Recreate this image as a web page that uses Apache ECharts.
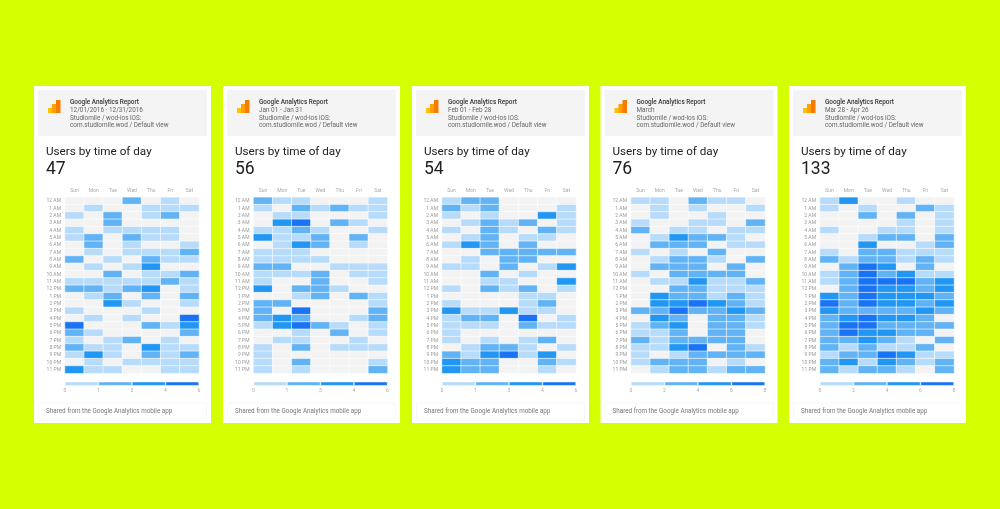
<!DOCTYPE html>
<html><head><meta charset="utf-8">
<style>html,body{margin:0;padding:0;background:#d4ff00}#c{width:1000px;height:509px}</style>
<script src="https://cdn.jsdelivr.net/npm/echarts@6/dist/echarts.min.js"></script>
</head><body><div id="c"></div>
<script>
const days = ['Sun','Mon','Tue','Wed','Thu','Fri','Sat'];
const hours = ['12 AM','1 AM','2 AM','3 AM','4 AM','5 AM','6 AM','7 AM','8 AM','9 AM','10 AM','11 AM','12 PM','1 PM','2 PM','3 PM','4 PM','5 PM','6 PM','7 PM','8 PM','9 PM','10 PM','11 PM'];
const levelColors = ['#f3f3f3','#b7dbfb','#62b3f6','#2196f3','#1a73f4'];
const dateLabels = ['12/01/2016 - 12/31/2016','Jan 01 - Jan 31','Feb 01 - Feb 28','March','Mar 28 - Apr 26'];
const totals = ['47','56','54','76','133'];
const legendTicks = [[0,1,3,4,6],[0,1,3,4,6],[0,1,3,4,6],[0,2,4,6,8],[0,2,4,6,8]];
const december = [
[0,0,0,2,0,1,0],[0,1,0,0,1,1,1],[1,0,2,0,1,2,0],[0,0,2,0,0,0,0],[1,0,1,1,1,1,0],[1,2,0,2,1,1,0],
[0,2,0,1,0,0,1],[0,1,0,1,1,1,2],[2,0,1,0,2,1,1],[0,1,0,1,3,0,0],[0,0,2,0,1,1,2],[1,1,1,1,1,2,1],
[2,2,1,2,3,0,1],[0,1,2,0,2,0,2],[0,0,3,1,0,0,1],[1,0,0,0,1,0,0],[0,1,0,1,0,0,4],[4,0,0,0,2,1,3],
[2,1,0,0,0,0,2],[1,0,1,2,0,1,0],[2,1,1,0,3,1,1],[1,3,1,0,2,1,2],[0,1,0,1,1,1,1],[3,1,1,0,0,1,1]];
const january = [
[2,1,1,0,0,0,1],[1,0,2,1,2,1,1],[0,1,1,0,0,0,1],[0,3,4,0,2,1,0],[1,1,2,1,0,0,1],[3,1,1,2,0,2,0],
[0,1,3,2,0,1,0],[1,1,1,0,0,0,0],[1,1,1,1,0,0,0],[2,2,0,0,1,1,1],[1,1,1,2,0,1,1],[1,0,0,2,0,0,1],
[3,0,2,2,1,0,0],[0,0,1,2,0,2,1],[2,2,0,0,0,0,1],[2,0,4,0,0,0,2],[2,3,2,0,0,1,2],[1,3,4,2,1,0,1],
[0,0,1,0,2,0,1],[0,1,1,0,0,1,0],[1,0,2,0,1,1,1],[1,0,0,0,0,0,0],[1,0,2,0,0,0,1],[1,0,1,0,0,0,2]];
const february = [
[1,2,2,0,0,0,0],[2,1,2,0,0,0,1],[1,0,1,0,0,3,1],[0,1,2,1,2,0,1],[1,0,2,1,0,2,1],[0,1,2,0,1,1,0],
[1,3,2,0,2,0,0],[0,0,2,2,2,2,2],[0,1,0,2,2,0,0],[1,1,0,2,0,1,3],[0,0,2,0,1,0,0],[0,0,1,1,0,0,3],
[1,0,2,1,2,0,1],[0,0,0,0,1,1,0],[1,0,0,0,1,2,0],[3,1,1,3,1,1,0],[1,2,2,0,4,0,1],[1,1,1,0,2,1,1],
[1,0,0,0,0,0,0],[1,0,1,0,1,2,0],[0,1,2,2,1,0,1],[2,1,3,4,1,3,0],[3,2,2,0,0,2,1],[3,2,2,0,0,1,0]];
const march = [
[1,1,0,2,1,1,0],[0,1,0,1,0,0,1],[0,1,0,0,1,0,0],[1,0,0,1,1,0,2],[2,0,1,1,0,1,1],[0,1,3,2,2,1,0],
[0,2,2,2,0,1,1],[1,0,1,0,2,0,0],[0,1,2,2,1,0,2],[0,2,2,2,0,2,0],[1,0,2,2,2,2,0],[0,1,1,3,1,1,2],
[0,0,2,2,1,1,1],[0,3,2,2,1,2,1],[0,3,3,4,3,2,1],[2,2,4,2,2,3,2],[0,3,2,0,2,2,1],[1,2,3,0,2,2,1],
[1,1,2,0,2,2,0],[2,1,2,2,2,2,0],[1,1,3,4,0,2,1],[1,0,1,2,2,2,2],[1,2,2,2,0,1,0],[0,1,2,2,1,2,2]];
const april = [
[1,3,0,0,1,0,0],[1,0,1,0,0,2,1],[0,0,2,0,2,0,1],[0,0,0,0,1,0,1],[1,0,0,1,1,0,1],[0,0,1,2,2,0,2],
[0,0,3,0,0,1,2],[1,0,2,2,1,1,1],[2,1,2,2,1,2,1],[0,2,4,3,0,2,0],[1,2,4,2,3,1,1],[1,2,4,4,4,2,3],
[0,2,4,3,3,2,3],[3,2,4,3,3,3,2],[4,2,4,3,3,2,3],[3,2,2,2,2,3,2],[2,3,4,3,3,2,0],[2,4,4,2,2,2,2],
[2,4,3,3,2,2,0],[2,2,3,2,1,0,2],[2,1,2,1,1,2,0],[1,2,2,4,3,1,1],[2,3,1,3,2,1,2],[2,1,2,2,1,0,2]];
const panels = [december,january,february,march,april];

const F = 'Roboto, sans-serif';
const cardX = [34,223,412,600.5,789];
const plotX = [65,253.5,442,631,820];
const grid=[],xAxis=[],yAxis=[],series=[],graphic=[];
const txt=(x,y,text,size,fill,weight)=>({type:'text',silent:true,x,y,z:5,style:{text,font:(weight||400)+' '+size+'px '+F,fill,textVerticalAlign:'top'}});
panels.forEach((rows,p)=>{
  const cx=cardX[p], px=plotX[p];
  graphic.push({type:'rect',silent:true,z:0,shape:{x:cx,y:86,width:177,height:337},style:{fill:'#fff'}});
  graphic.push({type:'rect',silent:true,z:1,shape:{x:cx+4,y:90,width:169,height:46},style:{fill:'#f4f4f4'}});
  graphic.push({type:'rect',silent:true,z:1,shape:{x:cx+4.5,y:403,width:168,height:17,r:1},style:{fill:'#fff',stroke:'#f7f7f7',lineWidth:1}});
  // logo
  graphic.push({type:'rect',silent:true,z:3,shape:{x:cx+14,y:108,width:4.5,height:5},style:{fill:'#ffc107'}});
  graphic.push({type:'rect',silent:true,z:3,shape:{x:cx+18,y:104,width:4.5,height:9},style:{fill:'#ffa000'}});
  graphic.push({type:'rect',silent:true,z:3,shape:{x:cx+22,y:100,width:4.5,height:13},style:{fill:'#f57c00'}});
  graphic.push(txt(cx+36,99.5,'Google Analytics Report',6.4,'#333',500));
  graphic.push(txt(cx+36,107.5,dateLabels[p],6.4,'#666'));
  graphic.push(txt(cx+36,115,'Studiomile / wod-ios iOS:',6.4,'#666'));
  graphic.push(txt(cx+36,122.5,'com.studiomile.wod / Default view',6.4,'#666'));
  graphic.push(txt(cx+12,146.5,'Users by time of day',11.7,'#212121'));
  graphic.push(txt(cx+12,161,totals[p],17.5,'#212121'));
  graphic.push(txt(cx+12,408.5,'Shared from the Google Analytics mobile app',6.3,'#777'));

  const gi=grid.length;
  grid.push({left:px,top:197.3,width:134,height:176});
  xAxis.push({type:'category',gridIndex:gi,data:days,position:'top',axisLine:{show:false},axisTick:{show:false},splitLine:{show:false},
    axisLabel:{color:'#aaa',fontSize:5,fontFamily:F,margin:4,interval:0}});
  yAxis.push({type:'category',gridIndex:gi,data:hours,inverse:true,axisLine:{show:false},axisTick:{show:false},splitLine:{show:false},
    axisLabel:{color:'#999',fontSize:5,fontFamily:F,margin:4,interval:0}});
  const cells=[];
  rows.forEach((r,y)=>r.forEach((v,x)=>cells.push([x,y,v])));
  series.push({type:'heatmap',xAxisIndex:gi,yAxisIndex:gi,data:cells,silent:true,itemStyle:{borderColor:'#fff',borderWidth:0.6}});

  const li=grid.length;
  grid.push({left:px,top:381.7,width:134,height:4});
  const ticks=legendTicks[p];
  xAxis.push({type:'value',gridIndex:li,min:0,max:4,interval:1,axisLine:{show:false},axisTick:{show:false},splitLine:{show:false},
    axisLabel:{color:'#aaa',fontSize:5,fontFamily:F,margin:3,formatter:v=>String(ticks[v])}});
  yAxis.push({type:'category',gridIndex:li,data:['scale'],axisLine:{show:false},axisTick:{show:false},axisLabel:{show:false}});
  [1,2,3,4].forEach(l=>series.push({type:'bar',xAxisIndex:li,yAxisIndex:li,stack:'s'+p,data:[1],barWidth:4,silent:true,
    itemStyle:{color:levelColors[l],borderColor:'#fff',borderWidth:0.5}}));
});
const chart=echarts.init(document.getElementById('c'),null,{renderer:'canvas'});
chart.setOption({
  animation:false,backgroundColor:'#d4ff00',
  grid,xAxis,yAxis,series,graphic,
  visualMap:{type:'piecewise',show:false,seriesIndex:series.map((s,i)=>s.type==='heatmap'?i:-1).filter(i=>i>=0),dimension:2,
    pieces:levelColors.map((c,i)=>({value:i,color:c}))}
});
</script></body></html>
